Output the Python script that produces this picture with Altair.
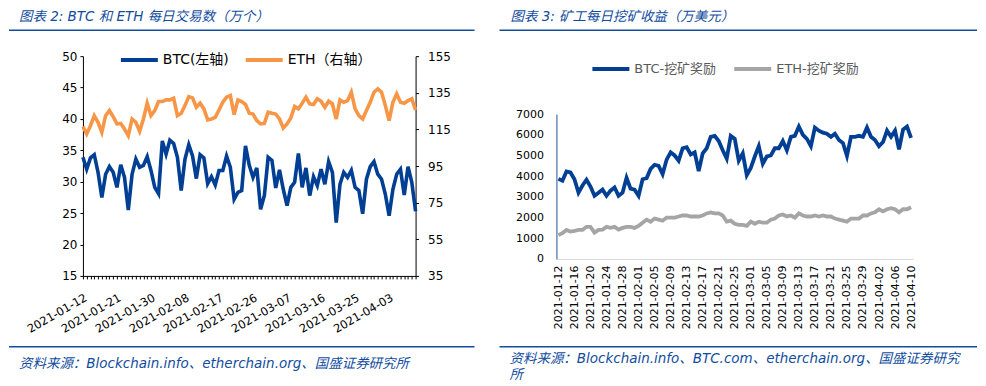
import altair as alt
import pandas as pd

# ---------------- data ----------------
dates = [d.strftime("%Y-%m-%d") for d in pd.date_range("2021-01-12", "2021-04-10", freq="D")]

# Figure 2: daily transactions (10k)
btc_tx = [33.9, 32.0, 33.8, 34.3, 31.5, 27.5, 31.2, 32.4, 31.5, 29.1,
          32.7, 30.7, 25.5, 31.2, 33.6, 32.3, 32.6, 34.0, 31.8, 29.1,
          28.1, 36.5, 34.4, 36.6, 36.1, 33.9, 28.6, 33.6, 35.9, 34.1,
          30.5, 34.3, 33.8, 29.7, 30.8, 29.5, 31.8, 31.8, 34.1, 32.3,
          27.2, 28.3, 28.6, 35.7, 32.6, 30.7, 32.2, 25.6, 27.8, 33.9,
          33.4, 29.0, 31.9, 28.8, 26.2, 29.1, 29.9, 34.5, 29.1, 32.2,
          27.8, 30.8, 29.4, 32.0, 29.6, 33.2, 31.5, 23.5, 29.6, 31.5,
          30.7, 31.8, 29.1, 28.6, 24.9, 30.4, 32.4, 33.2, 31.2, 30.4,
          28.0, 24.6, 28.8, 31.2, 32.0, 27.9, 32.4, 29.9, 25.3]
eth_tx = [116.5, 112.5, 117.0, 122.5, 118.9, 113.4, 122.5, 125.3, 122.0, 118.0,
          118.3, 115.2, 111.6, 120.7, 118.9, 114.0, 120.7, 129.3, 122.5, 125.3,
          130.2, 130.2, 131.1, 131.1, 132.0, 122.5, 123.8, 128.0, 132.9, 132.2,
          127.1, 129.3, 126.2, 120.2, 120.7, 121.6, 125.6, 129.8, 132.6, 133.5,
          123.1, 131.1, 130.2, 128.6, 123.8, 123.4, 119.8, 118.0, 118.3, 124.4,
          123.8, 123.4, 120.7, 115.8, 118.0, 121.3, 127.5, 126.2, 129.3, 132.6,
          128.9, 128.6, 131.7, 130.4, 127.1, 130.4, 128.9, 120.7, 131.1, 129.8,
          130.7, 135.3, 126.2, 122.5, 120.7, 125.3, 129.8, 135.3, 137.1, 135.3,
          128.0, 119.8, 129.8, 134.4, 129.8, 129.3, 130.7, 131.7, 125.6]

# Figure 3: daily mining reward (10k USD)
btc_reward = [3870, 3780, 4230, 4180, 3850, 3200, 3550, 3830, 3500, 3050,
              3200, 3350, 3050, 3300, 3450, 3050, 3200, 3920, 3400, 3350,
              3050, 3850, 3900, 4350, 4550, 4500, 4100, 4800, 5150, 5000,
              4750, 5350, 5400, 5050, 5150, 4250, 5100, 5350, 5900, 5950,
              5700, 5250, 4850, 5950, 5800, 4750, 5100, 4050, 4400, 4950,
              5450, 4600, 4950, 5000, 5350, 5350, 5700, 5250, 5900, 5950,
              6400, 6000, 5800, 5450, 6350, 6200, 6100, 6050, 5900, 6050,
              5750, 5600, 4980, 5900, 5900, 5950, 5900, 6350, 5900, 5750,
              5450, 5650, 6200, 5900, 6200, 5300, 6250, 6400, 5850]
eth_reward = [1150, 1250, 1400, 1320, 1350, 1400, 1400, 1550, 1550, 1270,
              1400, 1420, 1550, 1500, 1550, 1420, 1500, 1550, 1550, 1500,
              1600, 1750, 1900, 1800, 1950, 1900, 1850, 2000, 2000, 2000,
              2050, 2100, 2100, 2050, 2050, 2050, 2100, 2200, 2250, 2200,
              2200, 2100, 1800, 1850, 1700, 1650, 1650, 1600, 1800, 1700,
              1800, 1750, 1750, 1900, 1950, 2100, 2150, 2050, 2100, 2000,
              2200, 2100, 2050, 2050, 2100, 2050, 2100, 2050, 2050, 1950,
              1900, 1850, 1800, 1950, 1950, 1950, 2100, 2100, 2200, 2250,
              2400, 2300, 2400, 2450, 2400, 2250, 2400, 2400, 2500]

left_ticks = [15, 20, 25, 30, 35, 40, 45, 50]
right_ticks = [35, 55, 75, 95, 115, 135, 155]
reward_ticks = [0, 1000, 2000, 3000, 4000, 5000, 6000, 7000]
left_labels = dates[::9]
right_labels = dates[::4]

left_title = "图表 2:  BTC 和 ETH 每日交易数（万个）"
right_title = "图表 3:  矿工每日挖矿收益（万美元）"
left_source = "资料来源：Blockchain.info、etherchain.org、国盛证券研究所"
right_source = "资料来源：Blockchain.info、BTC.com、etherchain.org、国盛证券研究\n所"

btc_name_l = "BTC(左轴)"
eth_name_l = "ETH（右轴）"
btc_name_r = "BTC-挖矿奖励"
eth_name_r = "ETH-挖矿奖励"

# ---------------- styles ----------------
BLUE = "#003F93"
ORANGE = "#F79646"
GRAY = "#A5A5A5"
ACCENT = "#114C9E"
FONT = "DejaVu Sans, Noto Sans CJK SC"


def label_expr(labels):
    arr = ",".join(f"'{l}'" for l in labels)
    return f"indexof([{arr}], datum.value) >= 0 ? datum.value : ''"


def text_layer(txt, x, y, size, baseline="middle"):
    return alt.Chart(pd.DataFrame({"t": [txt]})).mark_text(
        align="left", baseline=baseline, fontSize=size, font=FONT,
        fontStyle="italic", color=ACCENT, lineBreak="\n", lineHeight=16
    ).encode(text="t:N", x=alt.value(x), y=alt.value(y))


def rule_layer(x1, x2, y):
    return alt.Chart(pd.DataFrame({"r": [0]})).mark_rule(
        color=ACCENT, strokeWidth=1.5
    ).encode(x=alt.value(x1), x2=alt.value(x2), y=alt.value(y))


# ---------------- left panel ----------------
W1, H1 = 333, 220
btc_df = pd.DataFrame({"date": dates, "v": btc_tx, "series": btc_name_l})
eth_df = pd.DataFrame({"date": dates, "v": eth_tx, "series": eth_name_l})

lx = alt.X("date:O", scale=alt.Scale(padding=0), axis=alt.Axis(
    title=None, labelExpr=label_expr(left_labels), labelAngle=-30,
    labelAlign="right", labelBaseline="middle", labelPadding=18, labelOffset=3,
    tickSize=3, tickColor="black", domainColor="black", labelColor="black",
    labelFontSize=11.5, labelFont=FONT))

lcolor = alt.Scale(domain=[btc_name_l, eth_name_l], range=[BLUE, ORANGE])
llegend = alt.Legend(title=None, orient="none", legendX=36, legendY=-17,
                     direction="horizontal", symbolType="stroke",
                     symbolStrokeWidth=4, symbolSize=1369, labelFontSize=14,
                     labelFont=FONT, labelColor="black", columnPadding=8,
                     labelOffset=3)

btc_line = alt.Chart(btc_df).mark_line(strokeWidth=3.6).encode(
    x=lx,
    y=alt.Y("v:Q", scale=alt.Scale(domain=[15, 50]), axis=alt.Axis(
        orient="left", title=None, values=left_ticks, tickSize=3,
        labelPadding=3, tickColor="black", domainColor="black",
        labelColor="black", labelFontSize=12, labelFont=FONT)),
    color=alt.Color("series:N", scale=lcolor, legend=llegend),
)
eth_line = alt.Chart(eth_df).mark_line(strokeWidth=3.6).encode(
    x=lx,
    y=alt.Y("v:Q", scale=alt.Scale(domain=[35, 155]), axis=alt.Axis(
        orient="right", title=None, values=right_ticks, tickSize=3,
        labelPadding=9, tickColor="black", domainColor="black",
        labelColor="black", labelFontSize=12, labelFont=FONT)),
    color=alt.Color("series:N", scale=lcolor, legend=llegend),
)

left = alt.layer(
    btc_line, eth_line,
    text_layer(left_title, -64, -39.5, 13.5),
    rule_layer(-74, 392, -26),
    rule_layer(-74, 392, 291),
    text_layer(left_source, -64, 308, 13.5),
).resolve_scale(y="independent").properties(width=W1, height=H1)

# ---------------- right panel ----------------
# plot origin shares the left panel's top; the y range starts lower
W2, H2 = 357, 203
rdf = pd.DataFrame({
    "date": dates + dates,
    "series": [btc_name_r] * len(btc_reward) + [eth_name_r] * len(eth_reward),
    "value": btc_reward + eth_reward,
})

rcolor = alt.Scale(domain=[btc_name_r, eth_name_r], range=[BLUE, GRAY])
rlegend = alt.Legend(title=None, orient="none", legendX=34, legendY=-8,
                     direction="horizontal", symbolType="stroke",
                     symbolStrokeWidth=4, symbolSize=1369, labelFontSize=13,
                     labelFont=FONT, labelColor="#595959", columnPadding=10,
                     labelOffset=3)

reward = alt.Chart(rdf).mark_line(strokeWidth=3.8).encode(
    x=alt.X("date:O", scale=alt.Scale(padding=0.5), axis=alt.Axis(
        title=None, labelExpr=label_expr(right_labels), labelAngle=-90,
        labelAlign="right", labelBaseline="middle", labelPadding=6,
        ticks=False, domainColor="#D9D9D9", labelColor="black",
        labelFontSize=11, labelFont=FONT)),
    y=alt.Y("value:Q", scale=alt.Scale(domain=[0, 7000], range=[H2, 58]),
            axis=alt.Axis(title=None, values=reward_ticks, ticks=False,
                          labelPadding=13, format="d", domainColor="#1F4E9C",
                          labelColor="black", labelFontSize=11, labelFont=FONT)),
    color=alt.Color("series:N", scale=rcolor, legend=rlegend),
)

right = alt.layer(
    reward,
    text_layer(right_title, -46, -39.5, 13.5),
    rule_layer(-57, 421, -26),
    rule_layer(-57, 421, 291),
    text_layer(right_source, -47, 296, 13.5, baseline="top"),
).properties(width=W2, height=H2)

chart = alt.hconcat(left, right, spacing=23).resolve_scale(
    color="independent"
).properties(
    padding={"top": 1, "left": 0, "right": 0, "bottom": 0}
).configure_view(stroke=None).configure_axis(grid=False)

chart.save("out.html", embed_options={"renderer": "svg", "actions": False})
